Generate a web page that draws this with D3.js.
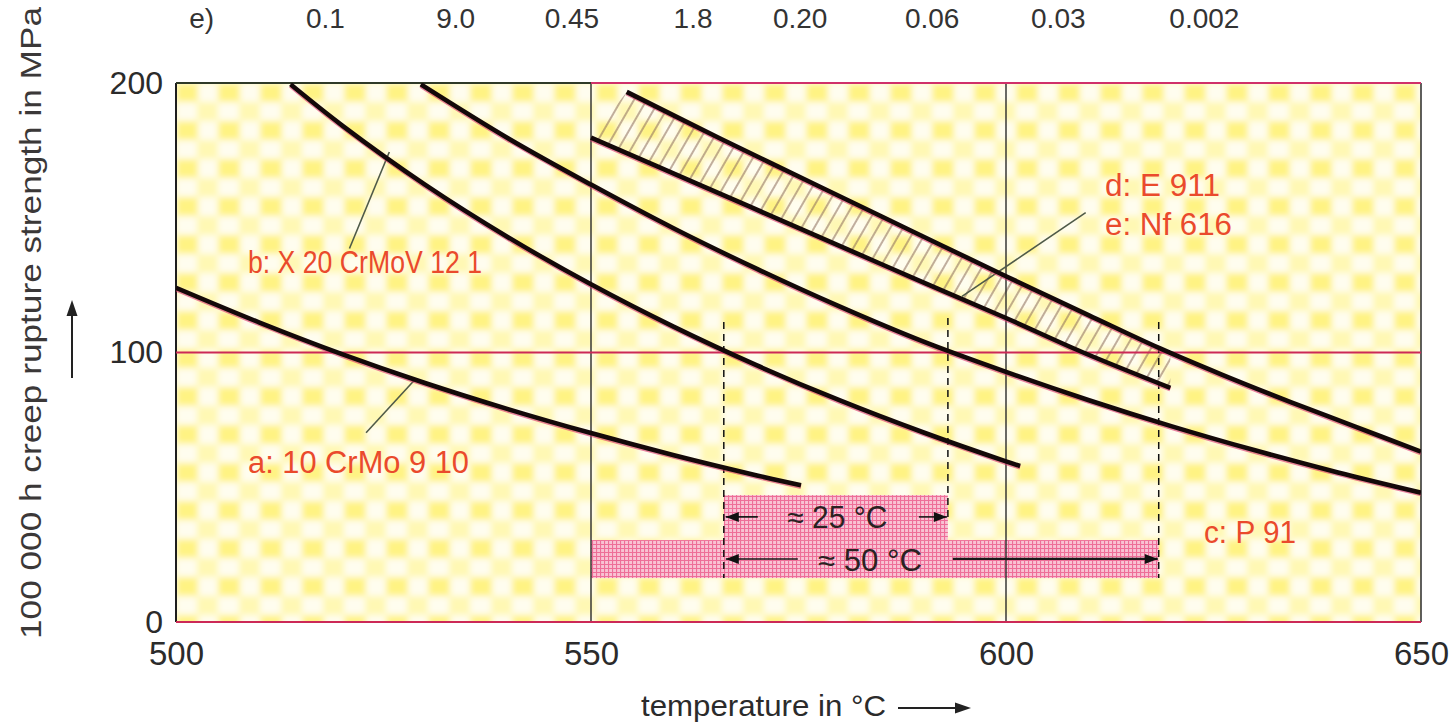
<!DOCTYPE html>
<html>
<head>
<meta charset="utf-8">
<script src="https://cdn.jsdelivr.net/npm/d3@7"></script>
<style>
  html, body { margin: 0; padding: 0; background: #ffffff; }
  svg { display: block; }
  text { font-family: "Liberation Sans", Arial, Helvetica, sans-serif; }
</style>
</head>
<body>
<svg id="chart" width="1456" height="727"></svg>
<script>
// ---- data -------------------------------------------------------------
// axis ticks
const xTicks = [500, 550, 600, 650];
const yTicks = [0, 100, 200];

// 100 000 h creep rupture strength (MPa) against temperature (°C)
const curveA = [[500, 124], [510, 111.2], [520, 99.4], [530, 88.7], [540, 79], [550, 70.1], [560, 61.9], [570, 54.4], [575.3, 50.7]];
const curveB = [[513.8, 199.5], [520, 184.3], [530, 162.3], [540, 142.8], [550, 125.3], [560, 109.5], [570, 95.2],
                [580, 82.2], [590, 70.4], [600, 59.6], [601.7, 57.9]];
const curveC = [[529.5, 199.5], [540, 179.5], [550, 162.3], [560, 146], [570, 131], [580, 117], [590, 104.1],
                [600, 92.8], [610, 82.3], [620, 72.6], [630, 63.7], [640, 55.5], [650, 48]];
const curveD = [[550, 179.7], [563.1, 162.2], [577.4, 143], [588.7, 127.8], [600, 112.8], [609.3, 100], [619.8, 86.9]];
const curveE = [[554.3, 196.7], [565.5, 179.5], [577.4, 161.8], [588.7, 145], [600, 128.3], [610, 113.8], [618.5, 101.6],
                [626, 91.8], [634.3, 81.6], [642, 72.6], [650, 63.2]];

// temperatures at which b, c and e reach 100 MPa
const shiftTemps = [566, 593, 618.4];
const shiftLabels = ["≈ 25 °C", "≈ 50 °C"];

// top row of figures
const topRowLabels = ["e)", "0.1", "9.0", "0.45", "1.8", "0.20", "0.06", "0.03", "0.002"];

// curve names
const curveLabels = ["a: 10 CrMo 9 10", "b: X 20 CrMoV 12 1", "c: P 91", "d: E 911", "e: Nf 616"];

// ---- layout -----------------------------------------------------------
const svg = d3.select("#chart");
const x = d3.scaleLinear().domain([500, 650]).range([176, 1421]);
const y = d3.scaleLinear().domain([0, 200]).range([622, 83]);
const X0 = x(500), X1 = x(650), Y0 = y(0), Y1 = y(200);

const topRowX = [503.1, 518, 533.7, 547.7, 562.3, 575.2, 591.1, 606.3, 623.9];   // °C positions of the top figures
const band25S = [30.4, 47.1];      // MPa extent of the 25 °C band
const band50S = [16.3, 30.4];      // MPa extent of the 50 °C band
const arrowS = [39, 23.4];         // MPa level of the two dimension arrows
const dashTop = [111.3, 112.8, 111.3];
const dashBottom = [16.3, 38.6, 16.3];
// leader lines [T1, S1, T2, S2]
const leaders = [[520.9, 138.6, 525.7, 174.4], [522.9, 70.2, 528.8, 90], [609.6, 151.9, 594.7, 120.8]];

const defs = svg.append("defs");

// soft yellow chequer background
const chk = defs.append("pattern").attr("id", "chk")
  .attr("patternUnits", "userSpaceOnUse").attr("width", 42).attr("height", 38)
  .attr("x", X0).attr("y", Y1);
chk.append("rect").attr("width", 42).attr("height", 38).attr("fill", "#fffdef");
chk.append("rect").attr("x", 0).attr("y", 0).attr("width", 22).attr("height", 19).attr("fill", "#fff383");
chk.append("rect").attr("x", 21).attr("y", 19).attr("width", 21).attr("height", 19).attr("fill", "#fff8b4");
defs.append("filter").attr("id", "soft").attr("x", "-5%").attr("y", "-5%").attr("width", "110%").attr("height", "110%")
  .append("feGaussianBlur").attr("stdDeviation", 3.4);

// hatch for the E 911 / NF 616 scatter band
const hatch = defs.append("pattern").attr("id", "hatch")
  .attr("patternUnits", "userSpaceOnUse").attr("width", 11).attr("height", 20)
  .attr("patternTransform", "rotate(30)");
hatch.append("line").attr("x1", 5).attr("y1", 0).attr("x2", 5).attr("y2", 20)
  .attr("stroke", "#8c6c5c").attr("stroke-width", 1.1);

// pink mesh for the temperature-gain bands
const mesh = defs.append("pattern").attr("id", "mesh")
  .attr("patternUnits", "userSpaceOnUse").attr("width", 4).attr("height", 4);
mesh.append("rect").attr("width", 4).attr("height", 4).attr("fill", "#f9c2d3");
mesh.append("path").attr("d", "M0 0.5H4M0.5 0V4").attr("stroke", "#ee6e98").attr("stroke-width", 1.2);

defs.append("clipPath").attr("id", "plotClip")
  .append("rect").attr("x", X0).attr("y", Y1).attr("width", X1 - X0).attr("height", Y0 - Y1);

// ---- background ---------------------------------------------------------
const plot = svg.append("g").attr("clip-path", "url(#plotClip)");
plot.append("rect").attr("x", X0 - 10).attr("y", Y1 - 10).attr("width", X1 - X0 + 20).attr("height", Y0 - Y1 + 20)
  .attr("fill", "url(#chk)").attr("filter", "url(#soft)");

// ---- temperature-gain bands --------------------------------------------
plot.append("rect")
  .attr("x", x(shiftTemps[0])).attr("y", y(band25S[1]))
  .attr("width", x(shiftTemps[1]) - x(shiftTemps[0])).attr("height", y(band25S[0]) - y(band25S[1]))
  .attr("fill", "url(#mesh)");
plot.append("rect")
  .attr("x", x(550)).attr("y", y(band50S[1]))
  .attr("width", x(shiftTemps[2]) - x(550)).attr("height", y(band50S[0]) - y(band50S[1]))
  .attr("fill", "url(#mesh)");

// ---- grid and frame -----------------------------------------------------
const grid = svg.append("g");
[550, 600].forEach(t => grid.append("line")
  .attr("x1", x(t)).attr("x2", x(t)).attr("y1", Y1).attr("y2", Y0)
  .attr("stroke", "#2a2a2a").attr("stroke-width", 1.4));
grid.append("line").attr("x1", X0).attr("x2", X0).attr("y1", Y1).attr("y2", Y0)
  .attr("stroke", "#1e1e1e").attr("stroke-width", 2);
grid.append("line").attr("x1", X1).attr("x2", X1).attr("y1", Y1).attr("y2", Y0)
  .attr("stroke", "#2a2a2a").attr("stroke-width", 1.5);
[100, 0].forEach(s => grid.append("line")
  .attr("x1", X0).attr("x2", X1).attr("y1", y(s)).attr("y2", y(s))
  .attr("stroke", "#cc2957").attr("stroke-width", 2));
grid.append("line").attr("x1", X0).attr("x2", x(550)).attr("y1", Y1).attr("y2", Y1)
  .attr("stroke", "#2f3a28").attr("stroke-width", 2);
grid.append("line").attr("x1", x(550)).attr("x2", X1).attr("y1", Y1).attr("y2", Y1)
  .attr("stroke", "#d0306a").attr("stroke-width", 2);

// ---- scatter band hatch ---------------------------------------------------
const line = d3.line().x(d => x(d[0])).y(d => y(d[1])).curve(d3.curveCatmullRom.alpha(0.5));
function valueAt(pts, t) {
  for (let i = 1; i < pts.length; i++) {
    if (t <= pts[i][0]) {
      const [t0, s0] = pts[i - 1], [t1, s1] = pts[i];
      return s0 + (s1 - s0) * (t - t0) / (t1 - t0);
    }
  }
  return pts[pts.length - 1][1];
}
const tEnd = curveD[curveD.length - 1][0];
const upperPart = curveE.filter(d => d[0] < tEnd).concat([[tEnd, valueAt(curveE, tEnd)]]);
const lowerRev = curveD.slice().reverse();
const bandPath = line(upperPart) + "L" + line(lowerRev).slice(1) + "Z";
plot.append("path").attr("d", bandPath).attr("fill", "url(#hatch)").attr("stroke", "none");

// ---- dashed markers -------------------------------------------------------
const marks = svg.append("g");
shiftTemps.forEach((t, i) => marks.append("line")
  .attr("x1", x(t)).attr("x2", x(t)).attr("y1", y(dashTop[i])).attr("y2", y(dashBottom[i]))
  .attr("stroke", "#111").attr("stroke-width", 1.5).attr("stroke-dasharray", "7,5"));

// ---- leader lines ---------------------------------------------------------
leaders.forEach(l => marks.append("line")
  .attr("x1", x(l[0])).attr("y1", y(l[1])).attr("x2", x(l[2])).attr("y2", y(l[3]))
  .attr("stroke", "#4f5a48").attr("stroke-width", 1.6));

// ---- curves ---------------------------------------------------------------
const curves = [curveA, curveB, curveC, curveD, curveE];
const cg = svg.append("g").attr("clip-path", "url(#plotClip)");
curves.forEach(c => {
  cg.append("path").attr("d", line(c)).attr("fill", "none")
    .attr("stroke", "#d8306a").attr("stroke-width", 4.6).attr("opacity", 0.6)
    .attr("transform", "translate(0,1.4)");
  cg.append("path").attr("d", line(c)).attr("fill", "none")
    .attr("stroke", "#140909").attr("stroke-width", 4.6);
});

// ---- dimension arrows -----------------------------------------------------
function head(xt, yc, dir) {
  const L = 13, Wd = 5;
  marks.append("path")
    .attr("d", `M${xt},${yc}L${xt - dir * L},${yc - Wd}L${xt - dir * L},${yc + Wd}Z`)
    .attr("fill", "#111");
}
function seg(xa, xb, yc, w) {
  marks.append("line").attr("x1", xa).attr("x2", xb).attr("y1", yc).attr("y2", yc)
    .attr("stroke", "#1a1a1a").attr("stroke-width", w);
}
// 25 °C
{
  const yc = y(arrowS[0]);
  const xl = x(shiftTemps[0]) + 2, xr = x(shiftTemps[1]) - 1;
  seg(xl, xl + 32, yc, 1.6); head(xl, yc, -1);
  seg(xr - 28, xr, yc, 1.6); head(xr, yc, 1);
  marks.append("text").attr("x", (xl + xr) / 2 + 1).attr("y", yc + 11)
    .attr("text-anchor", "middle").attr("font-size", 31).attr("fill", "#2a2222")
    .attr("textLength", 100).attr("lengthAdjust", "spacingAndGlyphs").text(shiftLabels[0]);
}
// 50 °C
{
  const yc = y(arrowS[1]);
  const xl = x(shiftTemps[0]) + 2, xr = x(shiftTemps[2]) - 1;
  seg(xl, xl + 72, yc, 1.6); head(xl, yc, -1);
  seg(x(shiftTemps[1]) + 5, xr, yc, 2.2); head(xr, yc, 1);
  marks.append("text").attr("x", 870).attr("y", yc + 12)
    .attr("text-anchor", "middle").attr("font-size", 31).attr("fill", "#2a2222")
    .attr("textLength", 104).attr("lengthAdjust", "spacingAndGlyphs").text(shiftLabels[1]);
}

// ---- curve labels ---------------------------------------------------------
const red = "#ea4a2c";
const labelPos = [[248, 473, 221], [248, 273, 234], [1204, 543, 92], [1105, 196, 115], [1105, 235, 127]];
curveLabels.forEach((t, i) => svg.append("text")
  .attr("x", labelPos[i][0]).attr("y", labelPos[i][1])
  .attr("font-size", 31).attr("fill", red)
  .attr("textLength", labelPos[i][2]).attr("lengthAdjust", "spacingAndGlyphs")
  .text(t));

// ---- axes -----------------------------------------------------------------
const yAxis = svg.append("g").attr("transform", `translate(${X0},0)`)
  .call(d3.axisLeft(y).tickValues(yTicks).tickSize(0).tickPadding(13).tickFormat(d3.format("d")));
yAxis.select(".domain").remove();
yAxis.selectAll("text").attr("font-size", 32).attr("fill", "#2b2b2b")
  .attr("font-family", "Liberation Sans, Arial, sans-serif");

const xAxis = svg.append("g").attr("transform", `translate(0,${Y0})`)
  .call(d3.axisBottom(x).tickValues(xTicks).tickSize(0).tickPadding(20).tickFormat(d3.format("d")));
xAxis.select(".domain").remove();
xAxis.selectAll("text").attr("font-size", 33).attr("fill", "#2b2b2b")
  .attr("font-family", "Liberation Sans, Arial, sans-serif");

// top row of figures
topRowLabels.forEach((t, i) => svg.append("text")
  .attr("x", x(topRowX[i])).attr("y", 28)
  .attr("text-anchor", "middle").attr("font-size", 28).attr("fill", "#333")
  .text(t));

// axis titles
svg.append("text")
  .attr("transform", "translate(41,323) rotate(-90)")
  .attr("text-anchor", "middle").attr("font-size", 30).attr("fill", "#3b3838")
  .attr("textLength", 632).attr("lengthAdjust", "spacingAndGlyphs")
  .text("100 000 h creep rupture strength in MPa");
svg.append("line").attr("x1", 72).attr("x2", 72).attr("y1", 378).attr("y2", 312)
  .attr("stroke", "#222").attr("stroke-width", 2);
svg.append("path").attr("d", "M72,300L66.5,316L77.5,316Z").attr("fill", "#222");

svg.append("text")
  .attr("x", 641).attr("y", 716)
  .attr("font-size", 30).attr("fill", "#2b2b2b")
  .attr("textLength", 245).attr("lengthAdjust", "spacingAndGlyphs")
  .text("temperature in °C");
svg.append("line").attr("x1", 898).attr("x2", 958).attr("y1", 708).attr("y2", 708)
  .attr("stroke", "#222").attr("stroke-width", 2);
svg.append("path").attr("d", "M971,708L955,702.5L955,713.5Z").attr("fill", "#222");
</script>
</body>
</html>
